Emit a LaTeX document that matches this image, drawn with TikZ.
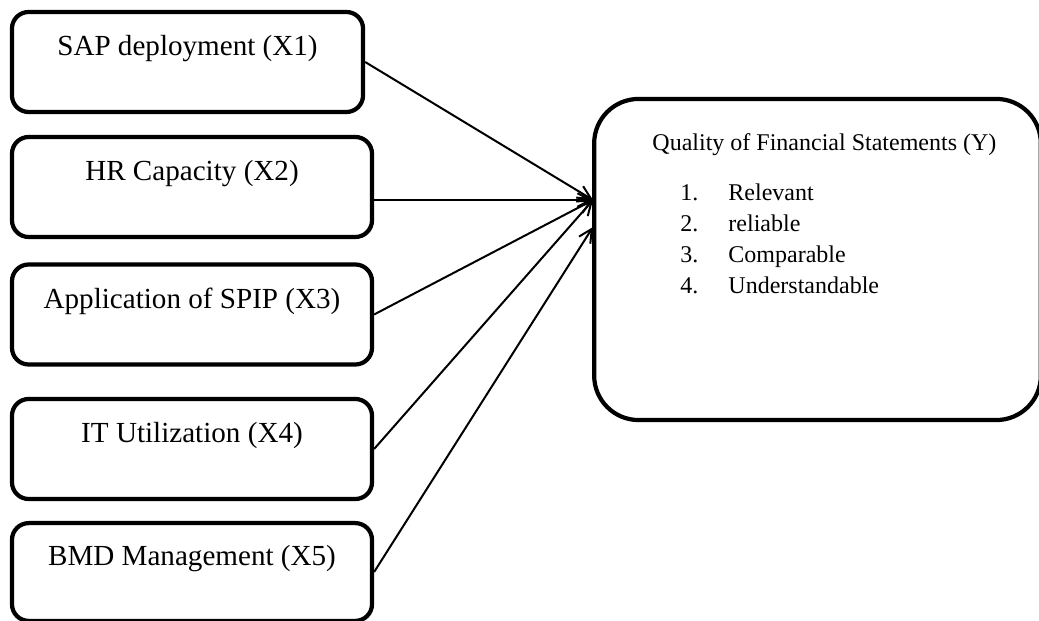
\documentclass[tikz,border=0pt]{standalone}
\usepackage{fontspec}
\setmainfont{Liberation Serif}
\usetikzlibrary{arrows.meta}
\tikzstyle{factor} = [rectangle, rounded corners=7.5pt, minimum width=162pt, minimum height=45pt, align=center, inner sep=0pt, line width=1.9pt, draw=black, font=\fontsize{13.1}{15}\selectfont]
\tikzstyle{outcome} = [rectangle, rounded corners=20pt, minimum width=201pt, minimum height=144.5pt, line width=1.9pt, draw=black]
\tikzstyle{listtext} = [anchor=north west, inner sep=0pt, align=left, font=\fontsize{10.8}{14}\selectfont]
\tikzstyle{arrow} = [line width=0.9pt,-{Straight Barb[length=6pt,width=6pt]}]
\newcommand{\itemno}[1]{\hspace*{12.6pt}\makebox[21.6pt][l]{#1}}

\begin{document}
\begin{tikzpicture}[x=0.45pt,y=-0.45pt]
\useasboundingbox (0,0) rectangle (1039,621);
\node (sap) [factor, minimum width=158pt] at (187.5,62) {SAP deployment (X1)\\\mbox{}};
\node (hr) [factor] at (192,187) {HR Capacity (X2)\\\mbox{}};
\node (spip) [factor] at (192,314.5) {Application of SPIP (X3)\\\mbox{}};
\node (it) [factor] at (192,449) {IT Utilization (X4)\\\mbox{}};
\node (bmd) [factor, minimum height=44pt] at (192,572) {BMD Management (X5)\\\mbox{}};

\node (quality) [outcome] at (817.5,259.5) {};
\node (qualitytext) [listtext] at (652,133) {Quality of Financial Statements (Y)\\[8.5pt]
\itemno{1.}Relevant\\
\itemno{2.}reliable\\
\itemno{3.}Comparable\\
\itemno{4.}Understandable};

\coordinate (hub) at (593,200);
\coordinate (hub2) at (593,227);

\draw [arrow] (sap.east) -- (hub);
\draw [arrow] (hr.east |- hub) -- (hub);
\draw [arrow] (spip.east) -- (hub);
\draw [arrow] (it.east) -- (hub);
\draw [arrow] (bmd.east) -- (hub2);
\end{tikzpicture}
\end{document}
